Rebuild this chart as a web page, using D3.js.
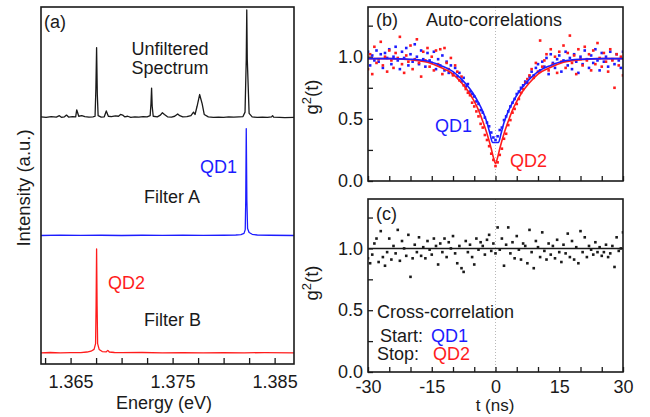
<!DOCTYPE html>
<html>
<head>
<meta charset="utf-8">
<script src="https://cdn.jsdelivr.net/npm/d3@7"></script>
<style>
  body { margin: 0; background: #fff; }
  text { font-family: "Liberation Sans", Arial, sans-serif; }
</style>
</head>
<body>
<script>
// ---- data ----

// (a) spectra: [energy eV, intensity (normalised)]
var unfiltered = [
  [1.3621, 0.010], [1.3626, 0.005], [1.3631, 0.012], [1.3636, 0.008], [1.3639, 0.020],
  [1.3641, 0.006], [1.3644, 0.010], [1.3646, 0.025], [1.3648, 0.008], [1.3652, 0.012],
  [1.3655, 0.010], [1.3656, 0.070], [1.3658, 0.015], [1.3661, 0.020], [1.3664, 0.012],
  [1.3668, 0.008], [1.3672, 0.010], [1.3674, 0.015], [1.36748, 0.25], [1.36755, 0.60],
  [1.36762, 0.20], [1.3677, 0.020], [1.3680, 0.008], [1.3683, 0.010], [1.3685, 0.060],
  [1.3687, 0.015], [1.3690, 0.012], [1.3694, 0.018], [1.3697, 0.015], [1.3699, 0.030],
  [1.3701, 0.025], [1.3703, 0.010], [1.3706, 0.015], [1.3709, 0.005], [1.3713, 0.010],
  [1.3717, 0.008], [1.3721, 0.012], [1.3725, 0.010], [1.3728, 0.020], [1.37288, 0.12],
  [1.37294, 0.255], [1.3730, 0.10], [1.3731, 0.015], [1.3735, 0.010], [1.3738, 0.025],
  [1.3740, 0.045], [1.3742, 0.030], [1.3745, 0.010], [1.3749, 0.008], [1.3752, 0.015],
  [1.3755, 0.035], [1.3757, 0.020], [1.3760, 0.010], [1.3764, 0.012], [1.3768, 0.020],
  [1.37705, 0.050], [1.3772, 0.030], [1.3774, 0.10], [1.37765, 0.20], [1.3779, 0.12],
  [1.3781, 0.030], [1.3785, 0.010], [1.3790, 0.005], [1.3795, 0.008], [1.3800, 0.006],
  [1.3805, 0.010], [1.3810, 0.008], [1.3815, 0.010], [1.3819, 0.012], [1.3821, 0.050],
  [1.38222, 0.50], [1.38227, 0.92], [1.38232, 0.50], [1.3825, 0.040], [1.3828, 0.010],
  [1.3833, 0.005], [1.3838, 0.008], [1.3843, 0.005], [1.3847, 0.010], [1.3848, 0.020],
  [1.3849, 0.008], [1.3855, 0.006], [1.3860, 0.004], [1.3869, 0.005]
];

var filterA = [
  [1.3621, 0.000], [1.3640, 0.003], [1.3660, 0.001], [1.3680, 0.002], [1.3700, 0.000],
  [1.3720, 0.002], [1.3740, 0.001], [1.3760, 0.003], [1.3780, 0.001], [1.3800, 0.002],
  [1.3812, 0.004], [1.3817, 0.008], [1.3820, 0.018], [1.38212, 0.05], [1.38217, 0.30],
  [1.38222, 0.91], [1.38228, 0.30], [1.38235, 0.06], [1.3825, 0.025], [1.3828, 0.010],
  [1.3833, 0.004], [1.3845, 0.002], [1.3869, 0.000]
];

var filterB = [
  [1.3621, 0.000], [1.3630, 0.004], [1.3640, 0.000], [1.3650, 0.003], [1.3660, 0.002],
  [1.3666, 0.008], [1.3670, 0.015], [1.3673, 0.030], [1.36745, 0.080], [1.3675, 0.40],
  [1.36755, 0.885], [1.3676, 0.40], [1.36765, 0.080], [1.3678, 0.030], [1.3681, 0.012],
  [1.3685, 0.010], [1.36865, 0.022], [1.3688, 0.008], [1.3693, 0.004], [1.3700, 0.002],
  [1.3720, 0.004], [1.3740, 0.001], [1.3760, 0.003], [1.3780, 0.001], [1.3800, 0.003],
  [1.3820, 0.001], [1.3840, 0.003], [1.3869, 0.001]
];

var energyTicks = [1.3625, 1.365, 1.3675, 1.37, 1.3725, 1.375, 1.3775, 1.38, 1.3825, 1.385];
var energyLabels = [1.365, 1.375, 1.385];

// (b), (c) correlation histograms, 0.5 ns bins from -30 to 30 ns
var tBins = d3.range(-30, 30.25, 0.5);

var autoQD1 = [
  1.04, 0.93, 1.01, 0.97, 1.05, 0.96, 1.02, 0.91, 1.03, 0.99,
  1.06, 0.94, 1.00, 1.08, 0.97, 0.90, 1.04, 0.99, 1.07, 0.93,
  1.02, 0.96, 1.10, 1.00, 0.94, 1.05, 0.98, 0.92, 1.03, 0.97,
  0.95, 1.04, 0.90, 0.98, 0.93, 1.01, 0.89, 0.96, 0.87, 0.93,
  0.86, 0.91, 0.84, 0.87, 0.80, 0.83, 0.76, 0.78, 0.72, 0.70,
  0.68, 0.64, 0.62, 0.57, 0.55, 0.51, 0.47, 0.44, 0.39, 0.35,
  0.33,
  0.36, 0.41, 0.43, 0.49, 0.52, 0.56, 0.60, 0.63, 0.66, 0.70,
  0.72, 0.75, 0.77, 0.80, 0.79, 0.84, 0.88, 0.85, 0.91, 0.94,
  0.89, 0.96, 0.92, 0.99, 0.86, 1.02, 0.95, 0.91, 0.98, 1.01,
  0.88, 0.97, 1.04, 0.93, 0.99, 0.90, 1.02, 0.96, 0.87, 1.00,
  0.94, 1.05, 0.98, 0.91, 1.01, 0.95, 1.06, 0.97, 0.89, 1.03,
  0.96, 1.00, 0.92, 1.04, 0.98, 0.94, 1.02, 0.97, 0.91, 1.04
];

var autoQD2 = [
  0.90, 1.02, 0.86, 1.08, 0.95, 0.98, 1.12, 0.93, 1.00, 0.88,
  1.05, 0.97, 0.91, 1.03, 0.99, 1.16, 0.94, 0.87, 1.01, 0.96,
  1.09, 0.90, 0.98, 1.14, 0.95, 0.84, 1.04, 0.97, 1.07, 0.92,
  1.00, 0.89, 1.05, 0.94, 1.06, 0.86, 1.07, 0.95, 0.90, 0.99,
  0.85, 0.93, 0.88, 0.81, 0.84, 0.77, 0.74, 0.71, 0.69, 0.63,
  0.60, 0.56, 0.52, 0.46, 0.43, 0.37, 0.33, 0.28, 0.22, 0.17,
  0.12,
  0.15, 0.21, 0.26, 0.34, 0.38, 0.45, 0.49, 0.55, 0.58, 0.62,
  0.66, 0.71, 0.74, 0.79, 0.82, 0.85, 0.90, 0.83, 0.95, 0.88,
  1.13, 0.92, 0.97, 1.02, 0.89, 1.06, 0.94, 1.00, 0.87, 1.04,
  0.96, 1.09, 0.91, 1.03, 1.17, 0.95, 1.01, 0.86, 1.06, 0.98,
  0.93, 1.08, 0.97, 1.02, 0.89, 1.05, 0.94, 1.11, 0.99, 0.92,
  1.03, 0.96, 0.88, 1.06, 0.97, 0.75, 1.02, 0.93, 1.00, 0.85
];

var crossQD1QD2 = [
  0.92, 0.88, 0.95, 1.04, 1.08, 0.89, 1.14, 0.93, 0.86, 0.97,
  1.08, 0.91, 1.02, 0.96, 1.15, 0.90, 1.06, 1.00, 0.94, 1.11,
  0.77, 0.92, 1.03, 0.97, 1.09, 0.94, 1.01, 0.92, 1.06, 0.99,
  0.95, 1.08, 1.02, 0.87, 1.04, 0.97, 1.08, 0.93, 1.05, 1.00,
  1.10, 0.96, 0.88, 1.02, 0.84, 0.81, 1.06, 0.97, 1.03, 0.93,
  0.87, 1.08, 0.99, 1.05, 1.02, 0.95, 1.07, 1.11, 0.98, 1.04,
  0.96,
  1.17, 0.99, 1.08, 0.86, 1.03, 1.17, 0.96, 1.05, 0.92, 1.10,
  0.99, 0.91, 1.04, 1.02, 0.88, 1.15, 0.97, 0.84, 1.06, 1.01,
  0.93, 1.13, 0.98, 0.91, 1.04, 0.95, 1.02, 0.92, 1.07, 0.97,
  0.89, 1.03, 0.96, 1.12, 0.93, 1.06, 0.91, 1.01, 0.88, 1.14,
  0.97, 1.09, 0.93, 1.02, 0.99, 0.95, 1.05, 0.97, 1.01, 0.94,
  0.97, 1.03, 0.93, 0.96, 1.02, 0.85, 1.09, 0.98, 1.00, 1.13
];

// fitted curves, read at these delays
var fitT   = [-30, -25, -20, -16, -13, -10, -8, -6, -5, -4, -3, -2, -1.3, -0.7, 0.7, 1.3, 2, 3, 4, 5, 6, 8, 10, 13, 16, 20, 25, 30];
var fitQD1 = [0.985, 0.985, 0.98, 0.965, 0.93, 0.88, 0.82, 0.74, 0.69, 0.63, 0.56, 0.47, 0.38, 0.31, 0.31, 0.38, 0.47, 0.56, 0.63, 0.69, 0.74, 0.82, 0.88, 0.93, 0.965, 0.98, 0.985, 0.985];
var fitQD2T = [-30, -25, -20, -16, -13, -10, -8, -6, -5, -4, -3, -2, -1, -0.5, 0, 0.5, 1, 2, 3, 4, 5, 6, 8, 10, 13, 16, 20, 25, 30];
var fitQD2 = [0.985, 0.985, 0.975, 0.955, 0.915, 0.86, 0.79, 0.70, 0.64, 0.57, 0.48, 0.38, 0.26, 0.19, 0.14, 0.19, 0.26, 0.38, 0.48, 0.57, 0.64, 0.70, 0.79, 0.86, 0.915, 0.955, 0.975, 0.985, 0.985];
var crossFit = [1.0, 1.0];

var timeTicks = d3.range(-30, 31, 5);
var timeLabels = [-30, -15, 0, 15, 30];
var gTicks = [0, 0.25, 0.5, 0.75, 1.0, 1.25];

var blue = "#1c1cff";
var red = "#ff1c1c";
var ink = "#1a1a1a";

var svg = d3.select("body").append("svg")
    .attr("width", 650)
    .attr("height", 417);

var defs = svg.append("defs");

// ---------- panel (a) ----------
var xE = d3.scaleLinear().domain([1.3621, 1.3869]).range([41, 294]);
var yI = d3.scaleLinear().domain([-0.094, 2.945]).range([364, 7]);

defs.append("clipPath").attr("id", "clipA")
    .append("rect").attr("x", 41).attr("y", 7).attr("width", 253).attr("height", 357);

var spectra = [
    {data: filterB, offset: 0, color: red},
    {data: filterA, offset: 1, color: blue},
    {data: unfiltered, offset: 2, color: ink}
];

var panelA = svg.append("g").attr("clip-path", "url(#clipA)");
spectra.forEach(function(s) {
    panelA.append("path")
        .datum(s.data)
        .attr("fill", "none")
        .attr("stroke", s.color)
        .attr("stroke-width", 1.3)
        .attr("stroke-linejoin", "round")
        .attr("d", d3.line()
            .x(d => xE(d[0]))
            .y(d => yI(d[1] + s.offset)));
});

var axisA = svg.append("g")
    .attr("transform", "translate(0,364)")
    .call(d3.axisBottom(xE)
        .tickValues(energyTicks)
        .tickSize(-6)
        .tickPadding(11)
        .tickFormat(d => energyLabels.some(v => Math.abs(v - d) < 1e-6) ? d3.format(".3f")(d) : ""));
axisA.select(".domain").remove();
axisA.selectAll("line").attr("stroke", ink).attr("stroke-width", 1.3);
axisA.selectAll("text").attr("font-size", 18).attr("fill", ink).attr("font-family", "Liberation Sans, Arial, sans-serif");

svg.append("rect")
    .attr("x", 41).attr("y", 7).attr("width", 253).attr("height", 357)
    .attr("fill", "none").attr("stroke", ink).attr("stroke-width", 1.6);

function label(x, y, txt, color, anchor) {
    return svg.append("text")
        .attr("x", x).attr("y", y)
        .attr("font-size", 18)
        .attr("fill", color || ink)
        .attr("text-anchor", anchor || "start")
        .text(txt);
}

label(44, 28, "(a)");
label(170, 55, "Unfiltered", ink, "middle");
label(170, 74, "Spectrum", ink, "middle");
label(200, 173, "QD1", blue);
label(144, 203, "Filter A");
label(108, 289, "QD2", red);
label(144, 326, "Filter B");
label(164, 409, "Energy (eV)", ink, "middle");
svg.append("text")
    .attr("transform", "translate(30,188) rotate(-90)")
    .attr("text-anchor", "middle")
    .attr("font-size", 18.5)
    .attr("fill", ink)
    .text("Intensity (a.u.)");

// ---------- panels (b) and (c) ----------
var xT = d3.scaleLinear().domain([-30, 30]).range([368, 623]);
var yB = d3.scaleLinear().domain([0, 1.4]).range([181, 7]);
var yC = d3.scaleLinear().domain([0, 1.4]).range([372, 199]);

function corrFrame(y, showX, id) {
    defs.append("clipPath").attr("id", id)
        .append("rect").attr("x", 368).attr("y", y.range()[1])
        .attr("width", 255).attr("height", y.range()[0] - y.range()[1]);

    var g = svg.append("g");

    g.append("line")
        .attr("x1", xT(0)).attr("x2", xT(0))
        .attr("y1", y.range()[1]).attr("y2", y.range()[0])
        .attr("stroke", "#b8b8b8").attr("stroke-width", 1)
        .attr("stroke-dasharray", "1,2");

    var ax = g.append("g")
        .attr("transform", "translate(0," + y.range()[0] + ")")
        .call(d3.axisBottom(xT)
            .tickValues(timeTicks)
            .tickSize(-5)
            .tickPadding(8)
            .tickFormat(d => showX && timeLabels.indexOf(d) >= 0 ? d : ""));
    ax.select(".domain").remove();

    var ay = g.append("g")
        .attr("transform", "translate(368,0)")
        .call(d3.axisLeft(y)
            .tickValues(gTicks)
            .tickSize(-5)
            .tickPadding(5)
            .tickFormat(d => (d * 2) % 1 === 0 ? d.toFixed(1) : ""));
    ay.select(".domain").remove();

    g.selectAll(".tick line").attr("stroke", ink).attr("stroke-width", 1.3);
    g.selectAll(".tick text").attr("font-size", 18).attr("fill", ink)
        .attr("font-family", "Liberation Sans, Arial, sans-serif");

    var plot = svg.append("g").attr("clip-path", "url(#" + id + ")");
    return plot;
}

function points(plot, y, values, color) {
    plot.append("g").selectAll("rect")
        .data(values)
        .join("rect")
        .attr("x", (d, i) => xT(tBins[i]) - 1.3)
        .attr("y", d => y(d) - 1.3)
        .attr("width", 2.6)
        .attr("height", 2.6)
        .attr("fill", color);
}

function frame(y) {
    svg.append("rect")
        .attr("x", 368).attr("y", y.range()[1])
        .attr("width", 255).attr("height", y.range()[0] - y.range()[1])
        .attr("fill", "none").attr("stroke", ink).attr("stroke-width", 1.6);
}

// (b)
var plotB = corrFrame(yB, false, "clipB");
points(plotB, yB, autoQD1, blue);
points(plotB, yB, autoQD2, red);
plotB.append("path")
    .datum(fitQD2T.map((t, i) => [t, fitQD2[i]]))
    .attr("fill", "none").attr("stroke", red).attr("stroke-width", 1.6)
    .attr("d", d3.line().x(d => xT(d[0])).y(d => yB(d[1])).curve(d3.curveMonotoneX));
plotB.append("path")
    .datum(fitT.map((t, i) => [t, fitQD1[i]]))
    .attr("fill", "none").attr("stroke", blue).attr("stroke-width", 1.6)
    .attr("d", d3.line().x(d => xT(d[0])).y(d => yB(d[1])).curve(d3.curveMonotoneX));
frame(yB);

label(376, 26, "(b)");
label(426, 26, "Auto-correlations");
label(435, 132, "QD1", blue);
label(510, 167, "QD2", red);

// (c)
var plotC = corrFrame(yC, true, "clipC");
plotC.append("line")
    .attr("x1", xT(-30)).attr("x2", xT(30))
    .attr("y1", yC(crossFit[0])).attr("y2", yC(crossFit[1]))
    .attr("stroke", ink).attr("stroke-width", 1.5);
points(plotC, yC, crossQD1QD2, ink);
frame(yC);

label(376, 220, "(c)");
label(377, 318, "Cross-correlation");
label(380, 342, "Start:");
label(431, 342, "QD1", blue);
label(377, 360, "Stop:");
label(433, 360, "QD2", red);
svg.append("text")
    .attr("x", 495).attr("y", 411)
    .attr("font-size", 17)
    .attr("fill", ink)
    .attr("text-anchor", "middle")
    .text("t (ns)");

[[yB, 97], [yC, 283]].forEach(function(p) {
    var t = svg.append("text")
        .attr("transform", "translate(318," + p[1] + ") rotate(-90)")
        .attr("text-anchor", "middle")
        .attr("font-size", 18.5)
        .attr("fill", ink);
    t.append("tspan").text("g");
    t.append("tspan").attr("dy", -7).attr("font-size", 13).text("2");
    t.append("tspan").attr("dy", 7).text("(t)");
});
</script>
</body>
</html>
